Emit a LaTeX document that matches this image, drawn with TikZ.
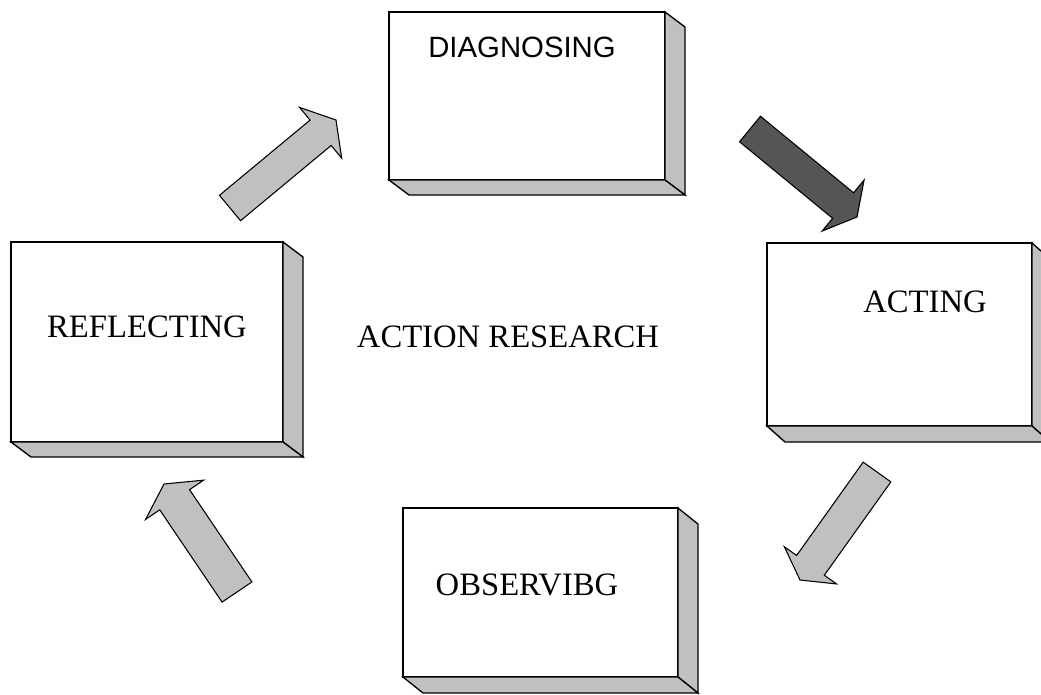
\documentclass[tikz,border=0pt]{standalone}
\usepackage{fontspec}
\setmainfont{Liberation Serif}
\newfontfamily\arialfont{Liberation Sans}
\usetikzlibrary{calc}
\definecolor{panelgray}{HTML}{C0C0C0}
\definecolor{darkarrow}{HTML}{555555}
\tikzset{
  face/.style={draw=black, fill=white, line width=1.3pt, inner sep=0pt, outer sep=0pt},
  panel/.style={draw=black, fill=panelgray, line width=1pt, line join=miter},
  lightarrow/.style={draw=black, fill=panelgray, line width=0.8pt, line join=miter},
  darkarr/.style={draw=black, fill=darkarrow, line width=0.8pt, line join=miter},
  serifl/.style={font=\fontsize{24.5}{28}\selectfont, inner sep=0pt},
  sansl/.style={font=\arialfont\fontsize{22}{25}\selectfont, inner sep=0pt},
}
% #1 style, #2 tail, #3 tip, #4 half shaft (px), #5 half head (px), #6 head length (px)
\newcommand\blockarr[6]{%
  \coordinate (hb) at ($(#3)!{#6*0.75pt}!(#2)$);
  \filldraw[#1] ($(#2)!{#4*0.75pt}!90:(#3)$) -- ($(hb)!{#4*0.75pt}!-90:(#2)$)
    -- ($(hb)!{#5*0.75pt}!-90:(#2)$) -- (#3) -- ($(hb)!{#5*0.75pt}!90:(#2)$)
    -- ($(hb)!{#4*0.75pt}!90:(#2)$) -- ($(#2)!{#4*0.75pt}!-90:(#3)$) -- cycle;
}
% #1 node name, #2 dx, #3 dy
\newcommand\depth[3]{%
  \filldraw[panel] (#1.north east) -- ++(#2,#3) -- ($(#1.south east)+(#2,#3)$) -- (#1.south east) -- cycle;
  \filldraw[panel] (#1.south west) -- ++(#2,#3) -- ($(#1.south east)+(#2,#3)$) -- (#1.south east) -- cycle;
}
\begin{document}
\begin{tikzpicture}[x=0.75pt, y=-0.75pt]
\useasboundingbox[fill=white] (0,0) rectangle (1041,694);

% boxes
\node[face, minimum width=276*0.75pt, minimum height=168*0.75pt] (diag) at (527,96) {};
\depth{diag}{20}{15}
\node[face, minimum width=272*0.75pt, minimum height=200*0.75pt] (refl) at (147,342) {};
\depth{refl}{20}{15}
\node[face, minimum width=265*0.75pt, minimum height=183*0.75pt] (act) at (899.5,334.5) {};
\depth{act}{18}{16}
\node[face, minimum width=275*0.75pt, minimum height=169*0.75pt] (obs) at (540.5,592.5) {};
\depth{obs}{20}{16}

% labels
\node[sansl] (tdiag) at (522,47) {DIAGNOSING};
\node[serifl] (trefl) at (147,327) {REFLECTING};
\node[serifl] (tact) at (925,302) {ACTING};
\node[serifl] (tobs) at (527,585) {OBSERVIBG};
\node[serifl] (tcenter) at (508,337) {ACTION RESEARCH};

% block arrows
\coordinate (a1t) at (230,208); \coordinate (a1h) at (336,120);
\blockarr{lightarrow}{a1t}{a1h}{16.5}{33}{20}
\coordinate (a2t) at (750,129); \coordinate (a2h) at (857,217);
\blockarr{darkarr}{a2t}{a2h}{16.5}{33}{18}
\coordinate (a3t) at (877,472); \coordinate (a3h) at (800,580);
\blockarr{lightarrow}{a3t}{a3h}{17}{32}{18}
\coordinate (a4t) at (237,592); \coordinate (a4h) at (164,484);
\blockarr{lightarrow}{a4t}{a4h}{18}{35}{19}
\end{tikzpicture}
\end{document}
